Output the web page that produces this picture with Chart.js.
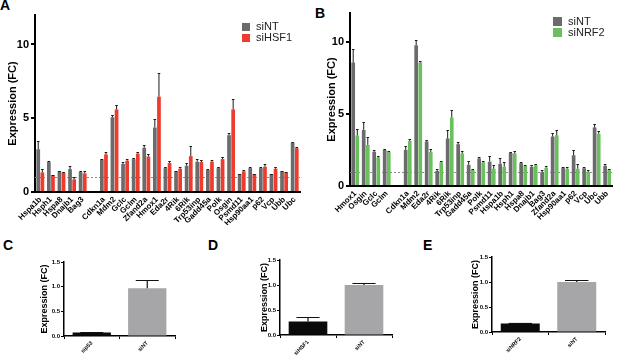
<!DOCTYPE html>
<html>
<head>
<meta charset="utf-8">
<script src="https://cdn.jsdelivr.net/npm/chart.js@4.4.0/dist/chart.umd.min.js"></script>
<style>
body { margin: 0; width: 617px; height: 355px; position: relative; background: #fff; overflow: hidden; font-family: "Liberation Sans", Arial, sans-serif; }
canvas { position: absolute; }
.lbl { position: absolute; font-weight: bold; font-size: 14px; line-height: 14px; color: #000; }
</style>
</head>
<body>
<div class="lbl" style="left:0px;top:-2px">A</div>
<div class="lbl" style="left:315px;top:6px">B</div>
<div class="lbl" style="left:3px;top:238px">C</div>
<div class="lbl" style="left:208px;top:238px">D</div>
<div class="lbl" style="left:423px;top:238px">E</div>

<canvas id="chA" width="305" height="225" style="left:0px;top:0px"></canvas>
<canvas id="chB" width="312" height="222" style="left:305px;top:0px"></canvas>
<canvas id="chC" width="200" height="115" style="left:0px;top:240px"></canvas>
<canvas id="chD" width="205" height="115" style="left:205px;top:240px"></canvas>
<canvas id="chE" width="207" height="115" style="left:410px;top:240px"></canvas>

<script>
// panel A
const genesA = ['Hspa1b', 'Hsph1', 'Hspa8', 'Dnajb1', 'Bag3', '', 'Cdkn1a', 'Mdm2', 'Gclc', 'Gclm', 'Zfand2a',
  'Hmox1', 'Eda2r', '4Rik', '6Rik', 'Trp53inp', 'Gadd45a', 'Polk', 'Osgin', 'Psmd11', 'Hsp90aa1', 'p62', 'Vcp', 'Ubb', 'Ubc'];
const ntA = [2.9, 2.03, 1.4, 1.55, 1.35, null, 2.2, 5.07, 1.9, 2.23, 3.0,
  4.37, 1.62, 1.4, 1.78, 2.05, 1.49, 1.62, 3.85, 1.22, 1.62, 1.62, 1.22, 1.4, 3.33];
const ntAErr = [0.57, 0.05, 0.04, 0.2, 0.1, null, 0.07, 0.18, 0.15, 0.07, 0.22,
  0.56, 0.05, 0.04, 0.22, 0.2, 0.04, 0.1, 0.18, 0.03, 0.07, 0.05, 0.03, 0.04, 0.07];
const hsfA = [1.33, 1.15, 1.3, 0.86, 1.26, null, 2.55, 5.6, 2.12, 2.6, 2.4,
  6.46, 1.96, 1.58, 2.43, 2.03, 2.05, 2.23, 5.6, 1.4, 1.22, 1.71, 1.58, 1.33, 2.97];
const hsfAErr = [0.23, 0.03, 0.07, 0.18, 0.16, null, 0.15, 0.28, 0.13, 0.1, 0.2,
  1.6, 0.14, 0.11, 0.68, 0.13, 0.09, 0.13, 0.68, 0.1, 0.03, 0.16, 0.11, 0.03, 0.11];

// panel B
const genesB = ['Hmox1', 'Osgin', 'Gclc', 'Gclm', '', 'Cdkn1a', 'Mdm2', 'Eda2r', '4Rik', '6Rik', 'Trp53inp',
  'Gadd45a', 'Polk', 'Psmd11', 'Hspa1b', 'Hsph1', 'Hspa8', 'Dnajb1', 'Bag3', 'Zfand2a', 'Hsp90aa1', 'p62', 'Vcp', 'Ubc', 'Ubb'];
const ntB = [8.56, 3.89, 2.38, 2.5, null, 2.52, 9.77, 3.08, 1.04, 3.29, 2.89,
  1.48, 1.9, 1.69, 1.55, 2.29, 1.57, 1.34, 0.95, 3.43, 1.27, 2.13, 1.23, 4.05, 1.41];
const ntBErr = [0.94, 0.58, 0.09, 0.04, null, 0.26, 0.33, 0.09, 0.12, 0.6, 0.19,
  0.26, 0.09, 0.37, 0.37, 0.09, 0.07, 0.12, 0.14, 0.23, 0.07, 0.37, 0.11, 0.23, 0.09];
const nrfB = [3.5, 2.85, 1.97, 2.36, null, 3.12, 8.56, 2.36, 1.64, 4.75, 2.25,
  1.11, 1.64, 1.2, 1.34, 2.25, 1.39, 1.44, 1.27, 3.52, 1.2, 1.2, 0.97, 3.63, 1.13];
const nrfBErr = [0.44, 0.58, 0.13, 0.05, null, 0.12, 0.14, 0.21, 0.12, 0.53, 0.18,
  0.09, 0.12, 0.26, 0.35, 0.2, 0.09, 0.11, 0.14, 0.37, 0.14, 0.3, 0.14, 0.19, 0.07];

// panels C, D, E
const groupsC = ['sip53', 'siNT'];
const valsC = [0.07, 0.97];
const errsC = [0.01, 0.16];
const groupsD = ['siHSF1', 'siNT'];
const valsD = [0.27, 1.0];
const errsD = [0.09, 0.05];
const groupsE = ['siNRF2', 'siNT'];
const valsE = [0.17, 1.0];
const errsE = [0.02, 0.05];

const yTicksBig = [0, 5, 10];
const yTicksSmall = [0, 0.5, 1.0, 1.5];

const FONT = '"Liberation Sans", Arial, sans-serif';
const GREY = '#6b6b6d';
const RED = '#ee3b2b';
const GREEN = '#6bc05e';

const errBars = {
  id: 'errBars',
  afterDatasetsDraw(chart, args, opts) {
    const {ctx} = chart;
    const y = chart.scales.y;
    ctx.save();
    ctx.strokeStyle = opts.color || '#222';
    ctx.lineWidth = opts.width || 1;
    chart.data.datasets.forEach((ds, i) => {
      const meta = chart.getDatasetMeta(i);
      meta.data.forEach((bar, j) => {
        const v = ds.data[j], e = ds.errs[j];
        if (v == null || e == null) return;
        const top = Math.round(y.getPixelForValue(v + e)) + 0.5;
        const half = bar.width * (opts.cap || 0.7) / 2;
        ctx.beginPath();
        ctx.moveTo(bar.x, bar.y);
        ctx.lineTo(bar.x, top);
        ctx.moveTo(bar.x - half, top);
        ctx.lineTo(bar.x + half, top);
        ctx.stroke();
      });
    });
    ctx.restore();
  }
};

const refLine = {
  id: 'refLine',
  beforeDatasetsDraw(chart, args, opts) {
    if (!opts.show) return;
    const {ctx, chartArea} = chart;
    const yp = Math.round(chart.scales.y.getPixelForValue(1)) + 0.5;
    ctx.save();
    ctx.strokeStyle = '#8a8a8a';
    ctx.lineWidth = 1;
    ctx.setLineDash([2, 2]);
    ctx.beginPath();
    ctx.moveTo(chartArea.left, yp);
    ctx.lineTo(chartArea.right, yp);
    ctx.stroke();
    ctx.restore();
  }
};

const boxLegend = {
  id: 'boxLegend',
  afterDraw(chart, args, opts) {
    if (!opts.show) return;
    const {ctx} = chart;
    ctx.save();
    ctx.font = '11px ' + FONT;
    ctx.textBaseline = 'middle';
    chart.data.datasets.forEach((ds, i) => {
      const y = opts.y + i * opts.step;
      ctx.fillStyle = ds.backgroundColor;
      ctx.fillRect(opts.x, y, opts.box, opts.box);
      ctx.fillStyle = '#222';
      ctx.fillText(ds.label, opts.textX, y + opts.box / 2);
    });
    ctx.restore();
  }
};

function bigChart(id, labels, sets, pad, yWidth, titleOff, xHeight, legend) {
  return new Chart(document.getElementById(id), {
    type: 'bar',
    data: {labels: labels, datasets: sets},
    options: {
      responsive: false,
      animation: false,
      layout: {padding: pad},
      datasets: {bar: {categoryPercentage: 0.78, barPercentage: 0.9}},
      plugins: {
        legend: {display: false},
        tooltip: {enabled: false},
        errBars: {color: '#1a1a1a', cap: 0.7},
        refLine: {show: true},
        boxLegend: legend
      },
      scales: {
        x: {
          grid: {display: false, drawTicks: false},
          border: {color: '#000', width: 2},
          ticks: {autoSkip: false, minRotation: 45, maxRotation: 45, padding: 3, color: '#000',
            font: {family: FONT, size: 8, weight: 'bold'}},
          afterFit(s) { s.height = xHeight; }
        },
        y: {
          min: 0, max: 12,
          afterBuildTicks(s) { s.ticks = yTicksBig.map(v => ({value: v})); },
          grid: {drawOnChartArea: false, color: '#000', tickLength: 4, lineWidth: 2},
          border: {color: '#000', width: 2},
          ticks: {padding: 2, color: '#000', font: {family: FONT, size: 11, weight: 'bold'}},
          title: {display: true, text: 'Expression (FC)', color: '#000',
            font: {family: FONT, size: 11, weight: 'bold'}, padding: {top: titleOff, bottom: 0}},
          afterFit(s) { s.width = yWidth; }
        }
      }
    },
    plugins: [errBars, refLine, boxLegend]
  });
}

bigChart('chA', genesA, [
  {label: 'siNT', data: ntA, errs: ntAErr, backgroundColor: GREY},
  {label: 'siHSF1', data: hsfA, errs: hsfAErr, backgroundColor: RED}
], {left: 0, right: 5, top: 15, bottom: 0}, 35, 6.4, 33,
  {show: true, x: 242, y: 23, box: 8, step: 11, textX: 256});

bigChart('chB', genesB, [
  {label: 'siNT', data: ntB, errs: ntBErr, backgroundColor: GREY},
  {label: 'siNRF2', data: nrfB, errs: nrfBErr, backgroundColor: GREEN}
], {left: 0, right: 3, top: 13, bottom: 0}, 45, 20.4, 36,
  {show: true, x: 248, y: 17, box: 9, step: 11, textX: 263});

function smallChart(id, labels, vals, errs, pad, yWidth, titleOff, xHeight) {
  return new Chart(document.getElementById(id), {
    type: 'bar',
    data: {labels: labels, datasets: [
      {label: 'FC', data: vals, errs: errs, backgroundColor: ['#0a0a0a', '#a6a6a9'],
        categoryPercentage: 1, barPercentage: 0.69}
    ]},
    options: {
      responsive: false,
      animation: false,
      layout: {padding: pad},
      plugins: {
        legend: {display: false},
        tooltip: {enabled: false},
        errBars: {color: '#111', cap: 0.6, width: 1.2},
        refLine: {show: false},
        boxLegend: {show: false}
      },
      scales: {
        x: {
          grid: {drawOnChartArea: false, color: '#000', tickLength: 3},
          border: {color: '#000', width: 1.5},
          ticks: {autoSkip: false, minRotation: 45, maxRotation: 45, padding: 1, color: '#000',
            font: {family: FONT, size: 5.5, weight: 'bold'}},
          afterFit(s) { s.height = xHeight; }
        },
        y: {
          min: 0, max: 1.5,
          afterBuildTicks(s) { s.ticks = yTicksSmall.map(v => ({value: v})); },
          grid: {drawOnChartArea: false, color: '#000', tickLength: 3},
          border: {color: '#000', width: 1.5},
          ticks: {padding: 1, color: '#000', font: {family: FONT, size: 6, weight: 'bold'},
            callback: v => Number(v).toFixed(1)},
          title: {display: true, text: 'Expression (FC)', color: '#000',
            font: {family: FONT, size: 9, weight: 'bold'}, padding: {top: titleOff, bottom: 0}},
          afterFit(s) { s.width = yWidth; }
        }
      }
    },
    plugins: [errBars, refLine, boxLegend]
  });
}

smallChart('chC', groupsC, valsC, errsC, {left: 0, right: 25, top: 22, bottom: 0}, 64, 39.6, 19);
smallChart('chD', groupsD, valsD, errsD, {left: 0, right: 18, top: 20, bottom: 0}, 75, 54.6, 20);
smallChart('chE', groupsE, valsE, errsE, {left: 0, right: 12, top: 17, bottom: 0}, 82, 60.6, 23);
</script>
</body>
</html>
